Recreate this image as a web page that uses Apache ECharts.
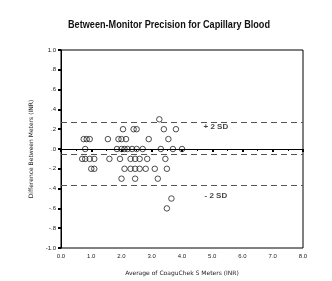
<!DOCTYPE html>
<html>
<head>
<meta charset="utf-8">
<script src="https://cdn.jsdelivr.net/npm/echarts@6/dist/echarts.min.js"></script>
<style>
html, body { margin: 0; padding: 0; background: #fff; }
#chart { width: 332px; height: 281px; }
</style>
</head>
<body>
<div id="chart"></div>
<script>
// points, grouped by difference level
var avgInr = [
    3.25,
    2.05, 2.4, 2.5, 3.4, 3.8,
    0.75, 0.85, 0.95, 1.55, 1.9, 2.0, 2.15, 2.9, 3.55,
    0.8, 1.85, 2.0, 2.1, 2.2, 2.35, 2.5, 2.7, 3.3, 3.7, 4.0,
    0.7, 0.8, 0.95, 1.1, 1.6, 1.95, 2.3, 2.45, 2.6, 2.85, 3.45,
    1.0, 1.1, 2.1, 2.3, 2.45, 2.6, 2.8, 3.1, 3.5,
    2.0, 2.45, 3.2,
    3.65,
    3.5
];
var diffInr = [
    0.3,
    0.2, 0.2, 0.2, 0.2, 0.2,
    0.1, 0.1, 0.1, 0.1, 0.1, 0.1, 0.1, 0.1, 0.1,
    0.0, 0.0, 0.0, 0.0, 0.0, 0.0, 0.0, 0.0, 0.0, 0.0, 0.0,
    -0.1, -0.1, -0.1, -0.1, -0.1, -0.1, -0.1, -0.1, -0.1, -0.1, -0.1,
    -0.2, -0.2, -0.2, -0.2, -0.2, -0.2, -0.2, -0.2, -0.2,
    -0.3, -0.3, -0.3,
    -0.5,
    -0.6
];
var meanDiff = -0.05;
var sdLines = [0.27, -0.37];
var sdLabels = ['+ 2 SD', '- 2 SD'];
var sdLabelPos = [[5.12, 0.22], [5.12, -0.475]];
var titleText = 'Between-Monitor Precision for Capillary Blood';

var pts = [];
for (var i = 0; i < avgInr.length; i++) {
    pts.push([avgInr[i], diffInr[i]]);
}

var fmtY = function (v) {
    var s = Math.abs(v) < 1e-9 ? '.0' : v.toFixed(1);
    if (s.indexOf('0.') === 0) s = s.substring(1);
    if (s.indexOf('-0.') === 0) s = '-' + s.substring(2);
    return s;
};

// title is a condensed bold face in the original, squeeze a normal bold one
var titleFont = 'bold 11px "Liberation Sans", Arial, sans-serif';
var ctx = document.createElement('canvas').getContext('2d');
ctx.font = titleFont;
var squeeze = 202 / ctx.measureText(titleText).width;

var dash = { color: '#555', type: [6, 4], width: 1 };
var myChart = echarts.init(document.getElementById('chart'));
myChart.setOption({
    animation: false,
    graphic: [{
        type: 'text', x: 169, y: 25, scaleX: squeeze, scaleY: 1,
        style: { text: titleText, font: titleFont, fill: '#111', align: 'center', verticalAlign: 'middle' }
    }],
    grid: { left: 61, right: 29, top: 50, bottom: 32, show: true, borderColor: '#000', borderWidth: 1 },
    xAxis: {
        type: 'value', min: 0, max: 8, interval: 1,
        name: 'Average of CoaguChek S Meters (INR)', nameLocation: 'middle', nameGap: 22,
        nameTextStyle: { fontSize: 6, color: '#222', fontFamily: 'DejaVu Sans' },
        axisLine: { lineStyle: { color: '#000' } },
        axisTick: { length: 3, lineStyle: { color: '#000', width: 2 } },
        minorTick: { show: true, splitNumber: 2, length: 2, lineStyle: { color: '#000' } },
        axisLabel: { fontSize: 6, color: '#222', margin: 5, formatter: function (v) { return v.toFixed(1); } },
        splitLine: { show: false }
    },
    yAxis: {
        type: 'value', min: -1, max: 1, interval: 0.2,
        name: 'Difference Between Meters (INR)', nameLocation: 'middle', nameGap: 21,
        nameTextStyle: { fontSize: 6, color: '#222', fontFamily: 'DejaVu Sans' },
        axisLine: { lineStyle: { color: '#000' } },
        axisTick: { length: 3, lineStyle: { color: '#000', width: 2 } },
        axisLabel: { fontSize: 6, color: '#222', margin: 5, formatter: fmtY },
        splitLine: { show: false }
    },
    series: [
        {
            type: 'scatter',
            data: pts,
            symbol: 'circle',
            symbolSize: 5.5,
            itemStyle: { color: 'rgba(255,255,255,0)', borderColor: '#222', borderWidth: 1 },
            markLine: {
                silent: true, symbol: 'none', label: { show: false },
                data: [
                    { yAxis: 0, lineStyle: { color: '#000', type: 'solid', width: 1 } },
                    { yAxis: meanDiff, lineStyle: dash },
                    { yAxis: sdLines[0], lineStyle: dash },
                    { yAxis: sdLines[1], lineStyle: dash }
                ]
            }
        },
        {
            type: 'scatter',
            symbolSize: 0,
            data: sdLabelPos.map(function (p, k) { return { value: p, name: sdLabels[k] }; }),
            label: {
                show: true, position: 'inside', formatter: '{b}',
                fontSize: 8, fontWeight: 'bold', color: '#111', fontFamily: 'Liberation Sans'
            }
        }
    ]
});
</script>
</body>
</html>
